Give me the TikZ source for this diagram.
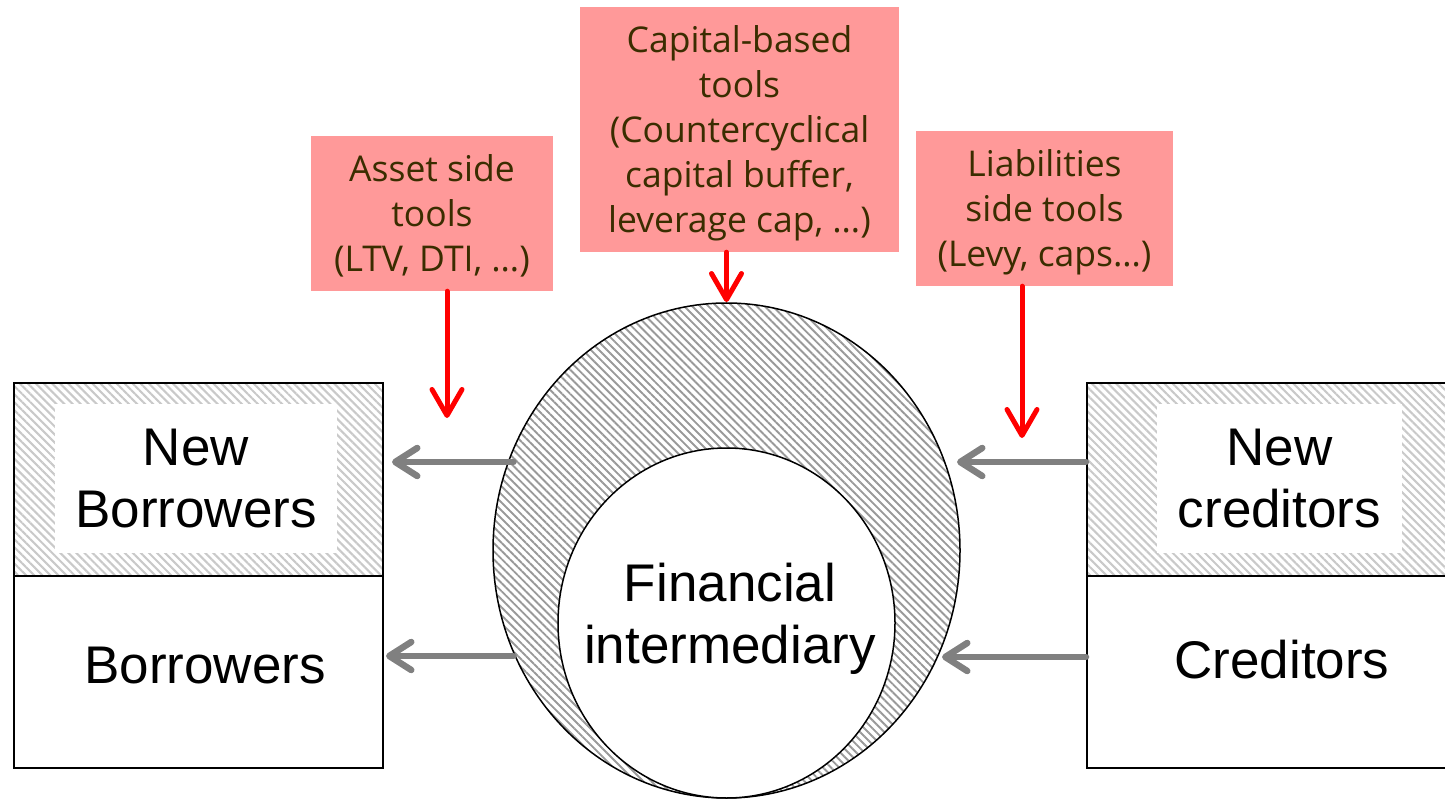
\documentclass[tikz,border=0pt]{standalone}
\usepackage{fontspec}
\setmainfont{Liberation Sans}
\newfontfamily\tooltext{Open Sans}
\usetikzlibrary{arrows.meta,shapes.geometric,patterns.meta}
\definecolor{toolfill}{RGB}{255,153,153}
\definecolor{tooltxt}{RGB}{58,45,0}
\definecolor{arrowgray}{RGB}{128,128,128}
\newcommand{\toollines}[1]{\raisebox{-4pt}[\height][\depth]{\begin{tabular}{@{}c@{}}#1\end{tabular}}}
\tikzset{
  toolbox/.style={fill=toolfill, draw=none, align=center, inner sep=0pt,
    text=tooltxt, font=\tooltext\fontsize{35.5}{45}\selectfont},
  redarrow/.style={draw=red, line width=5pt, line cap=round,
    -{Straight Barb[length=26pt,width=30pt,round]}},
  grayarrow/.style={draw=arrowgray, line width=6.5pt, line cap=round,
    -{Straight Barb[length=22pt,width=28pt,round]}},
  agentbox/.style={rectangle, draw=black, line width=2pt, inner sep=0pt, align=center,
    font=\fontsize{53}{62}\selectfont},
  hatchbox/.style={agentbox, pattern={Lines[angle=-45,distance=5.7pt,line width=2.1pt]}, pattern color=gray!42},
  innerwhite/.style={rectangle, fill=white, draw=none, inner sep=0pt, align=center,
    font=\fontsize{53}{62}\selectfont},
  bigtext/.style={inner sep=0pt, align=center, font=\fontsize{53}{62}\selectfont},
}
\begin{document}
\begin{tikzpicture}[x=1pt,y=-1pt]
\useasboundingbox (0,0) rectangle (1445,799);
% tool boxes
\node[toolbox, minimum width=242pt, minimum height=155pt] (as) at (432,213.5)
  {\toollines{Asset side\\tools\\(LTV, DTI, \dots)}};
\node[toolbox, minimum width=319pt, minimum height=245pt] (cb) at (739.5,129.5)
  {\toollines{Capital-based\\tools\\(Countercyclical\\capital buffer,\\leverage cap, \dots)}};
\node[toolbox, minimum width=257pt, minimum height=155pt] (lb) at (1044.5,208.5)
  {\toollines{Liabilities\\side tools\\(Levy, caps\dots)}};
% borrowers
\node[hatchbox, minimum width=369pt, minimum height=193pt] (nb) at (198.5,479.5) {};
\node[innerwhite, minimum width=282pt, minimum height=149pt] (nbin) at (196,478.5) {New\\Borrowers};
\node[agentbox, minimum width=369pt, minimum height=192pt] (b) at (198.5,672) {};
\node[bigtext] (btext) at (205,666) {Borrowers};
% creditors
\node[hatchbox, minimum width=363pt, minimum height=193pt] (nc) at (1268.5,479.5) {};
\node[innerwhite, minimum width=245pt, minimum height=149pt] (ncin) at (1279.5,478.5) {New\\creditors};
\node[agentbox, minimum width=363pt, minimum height=192pt] (c) at (1268.5,672) {};
\node[bigtext] (ctext) at (1282,660) {Creditors};
% financial intermediary
\node[ellipse, draw=black, line width=1.5pt, minimum width=467pt, minimum height=495pt, inner sep=0pt,
  pattern={Lines[angle=-45,distance=5.7pt,line width=1.9pt]}, pattern color=gray!80] (fi) at (726.5,550.5) {};
\node[ellipse, draw=black, line width=1.5pt, fill=white, minimum width=337pt, minimum height=350pt, inner sep=0pt] (fin) at (726.5,623) {};
\node[bigtext] (fitext) at (730,619) {Financial\\intermediary};
% red arrows
\coordinate (asEnd) at (447,418);
\coordinate (lbEnd) at (1022,438);
\draw[redarrow] (as.south -| asEnd) -- (asEnd);
\draw[redarrow] (cb.south -| fi.north) -- (fi.north);
\draw[redarrow] (lb.south -| lbEnd) -- (lbEnd);
% gray arrows
\coordinate (nbTip) at (392,462);
\coordinate (bTip) at (386,656);
\coordinate (ncTip) at (957,462);
\coordinate (cTip) at (942,657);
\draw[grayarrow] ([xshift=6pt]nbTip -| fi.158) -- (nbTip);
\draw[grayarrow] (bTip -| fi.206.5) -- (bTip);
\draw[grayarrow] (ncTip -| nc.west) -- (ncTip);
\draw[grayarrow] (cTip -| c.west) -- (cTip);
\end{tikzpicture}
\end{document}
